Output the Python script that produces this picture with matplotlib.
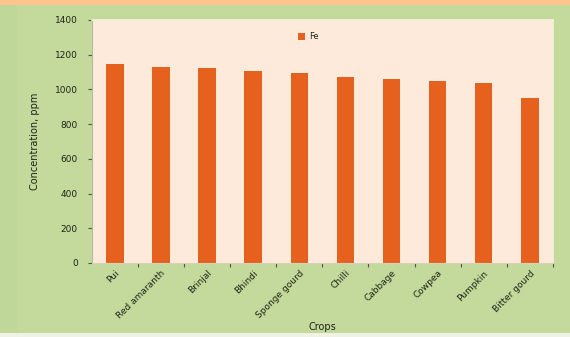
import matplotlib
matplotlib.use("Agg")
import matplotlib.pyplot as plt
from matplotlib.patches import Rectangle

crops = ["Pui", "Red amaranth", "Brinjal", "Bhindi", "Sponge gourd",
         "Chilli", "Cabbage", "Cowpea", "Pumpkin", "Bitter gourd"]
fe_ppm = [1145, 1128, 1122, 1105, 1093, 1070, 1058, 1047, 1035, 953]
y_ticks = [0, 200, 400, 600, 800, 1000, 1200, 1400]

GREEN = "#c3da9c"
PEACH = "#fdeadb"
BAR = "#e6611d"
TEXT = "#1f2416"

fig = plt.figure(figsize=(5.7, 3.37), dpi=100, facecolor=GREEN)

# decorative frame: orange band on top, pale strip at the bottom
fig.patches.append(Rectangle((0, 0.985), 1, 0.015, transform=fig.transFigure,
                             facecolor="#fdc48c", edgecolor="none", zorder=0))
fig.patches.append(Rectangle((0, 0), 1, 0.012, transform=fig.transFigure,
                             facecolor="#eef3e4", edgecolor="none", zorder=0))
fig.patches.append(Rectangle((0, 0.012), 0.03, 0.973, transform=fig.transFigure,
                             facecolor="#bfd899", edgecolor="none", zorder=0))

ax = fig.add_axes([0.161, 0.2196, 0.809, 0.7211], facecolor=PEACH)
x = list(range(len(crops)))
ax.bar(x, fe_ppm, width=0.38, color=BAR, label="Fe", zorder=2)

ax.set_xlim(-0.5, len(crops) - 0.5)
ax.set_ylim(0, 1400)
ax.set_yticks(y_ticks)
ax.set_yticklabels([str(v) for v in y_ticks], fontsize=6.5, color=TEXT)

# category boundary ticks, labels placed at bar centres
ax.set_xticks([i + 0.5 for i in range(len(crops))], minor=False)
ax.set_xticklabels([])
ax.tick_params(axis="x", which="major", length=3, color="#555544", direction="out")
ax.set_xticks(x, minor=True)
ax.set_xticklabels(crops, minor=True, rotation=45, ha="right",
                   rotation_mode="anchor", fontsize=6.5, color=TEXT)
ax.tick_params(axis="x", which="minor", length=0, pad=4)
ax.tick_params(axis="y", length=3, color="#555544", pad=7)

for side in ("top", "right"):
    ax.spines[side].set_color("#f4f0dc")
    ax.spines[side].set_linewidth(1.2)
ax.spines["left"].set_color("#b8b8a0")
ax.spines["bottom"].set_color("#d8d0b8")

ax.set_ylabel("Concentration, ppm", fontsize=7, color=TEXT, labelpad=11)
ax.set_xlabel("Crops", fontsize=7, color=TEXT, labelpad=1)

leg = ax.legend(loc="upper center", bbox_to_anchor=(0.47, 0.98), frameon=False,
                fontsize=6, handlelength=0.8, handleheight=0.8, handletextpad=0.5)
for t in leg.get_texts():
    t.set_color(TEXT)

fig.savefig("out.png", dpi=100, facecolor=GREEN)
